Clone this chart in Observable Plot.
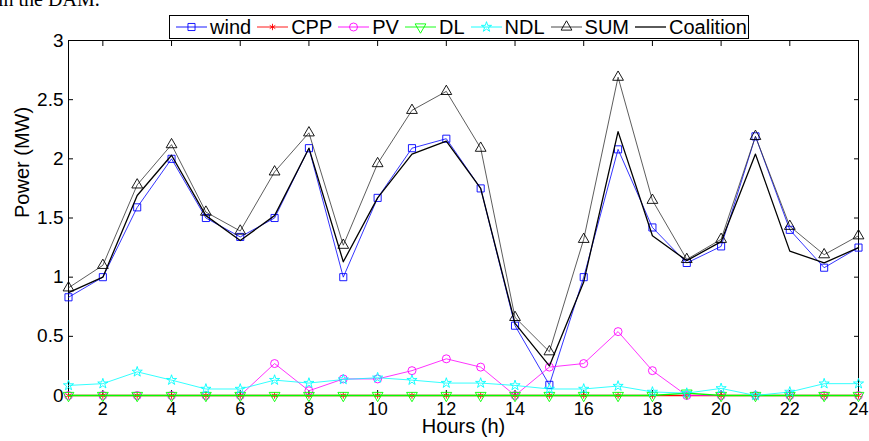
<!DOCTYPE html>
<html>
<head>
<meta charset="utf-8">
<script src="https://cdn.jsdelivr.net/npm/d3@7"></script>
<script src="https://cdn.jsdelivr.net/npm/@observablehq/plot@0.6"></script>
<style>
  html, body { margin: 0; padding: 0; background: white; }
  #wrap { position: relative; width: 869px; height: 441px; overflow: hidden; font-family: "Liberation Sans", Arial, sans-serif; }
  #title { position: absolute; left: -2px; top: -12px; font-family: "Liberation Serif", "Times New Roman", serif; font-size: 20px; white-space: nowrap; }
  #legend { position: absolute; left: 169px; top: 15px; width: 578px; height: 22px; border: 1px solid black; background: white; display: flex; align-items: center; font-size: 20px; box-sizing: content-box; }
  .item { display: flex; align-items: center; margin-left: 6px; }
  .item svg { display: block; margin-right: 3px; }
</style>
</head>
<body>
<div id="wrap">
  <div id="chart"></div>
  <div id="title">in the DAM.</div>
  <div id="legend"></div>
</div>
<script>
const hours = [1,2,3,4,5,6,7,8,9,10,11,12,13,14,15,16,17,18,19,20,21,22,23,24];
const wind = [0.83,1.00,1.59,2.00,1.50,1.34,1.50,2.09,1.00,1.67,2.09,2.17,1.75,0.59,0.09,1.00,2.08,1.42,1.12,1.26,2.19,1.40,1.08,1.25];
const cpp = [0,0,0,0,0,0,0,0,0,0,0,0,0,0,0,0,0,0,0,0,0,0,0,0];
const pv = [0,0,0,0,0,0,0.27,0.04,0.14,0.14,0.21,0.31,0.24,0,0.24,0.27,0.54,0.21,0,0,0,0,0,0];
const dl = [0,0,0,0,0,0,0,0,0,0,0,0,0,0,0,0,0,0,0.02,0,0,0,0,0];
const ndl = [0.085,0.10,0.20,0.13,0.055,0.055,0.13,0.105,0.135,0.15,0.13,0.105,0.105,0.085,0.055,0.055,0.08,0.03,0.02,0.06,0,0.03,0.10,0.10];
const sum = [0.91,1.10,1.78,2.12,1.55,1.39,1.89,2.22,1.27,1.96,2.41,2.57,2.09,0.66,0.37,1.32,2.69,1.65,1.15,1.32,2.19,1.43,1.19,1.35];
const coalition = [0.87,1.00,1.69,2.03,1.52,1.31,1.52,2.09,1.13,1.67,2.04,2.15,1.75,0.61,0.25,0.96,2.23,1.35,1.14,1.30,2.04,1.22,1.12,1.25];

const xTicks = [2,4,6,8,10,12,14,16,18,20,22,24];
const yTicks = [0,0.5,1,1.5,2,2.5,3];
const xLabel = "Hours (h)";
const yLabel = "Power (MW)";

const seriesNames = ["wind","CPP","PV","DL","NDL","SUM","Coalition"];
const seriesColors = ["#0000ff","#ff0000","#ff00ff","#00ff00","#00ffff","#000000","#000000"];
const seriesSymbols = ["square","asterisk","circle","triangle","star","triangle",null];
const seriesValues = [wind,cpp,pv,dl,ndl,sum,coalition];

function seriesMarks(i) {
  const ys = seriesValues[i];
  const color = seriesColors[i];
  const sym = seriesSymbols[i];
  const marks = [];
  const sw = i === 6 ? 1.3 : (i === 1 || i === 3 ? 1.4 : 0.8);
  const stroke = i === 5 ? "#333" : color;
  marks.push(Plot.line(ys, {x: hours, y: ys, stroke, strokeWidth: sw}));
  if (sym) {
    marks.push(Plot.dot(ys, {x: hours, y: ys, symbol: sym, stroke: color, fill: "none", strokeWidth: 0.9,
      r: sym === "asterisk" ? 3 : (sym === "star" ? 3.2 : 4), rotate: i === 3 ? 180 : 0}));
  }
  return marks;
}

const chart = Plot.plot({
  width: 869,
  height: 441,
  marginLeft: 68,
  marginRight: 11,
  marginTop: 40,
  marginBottom: 46,
  x: {domain: [1, 24]},
  y: {domain: [0, 3]},
  style: {fontFamily: "'Liberation Sans', Arial, sans-serif", fontSize: "19px", color: "black", background: "white", overflow: "visible"},
  marks: [
    Plot.frame({stroke: "black", strokeWidth: 1}),
    Plot.axisX({anchor: "bottom", ticks: xTicks, tickSize: -5, tickPadding: 12, tickFormat: d => String(d), label: null, fontSize: 18}),
    Plot.axisX({anchor: "top", ticks: xTicks, tickSize: -5, tickFormat: () => "", label: null}),
    Plot.axisY({anchor: "left", ticks: yTicks, tickSize: -5, tickPadding: 10, tickFormat: d => String(d), label: null}),
    Plot.axisY({anchor: "right", ticks: yTicks, tickSize: -5, tickFormat: () => "", label: null}),
    Plot.text([xLabel], {frameAnchor: "bottom", dy: 37, text: d => d, fontSize: 20}),
    Plot.text([yLabel], {frameAnchor: "left", dx: -46, rotate: -90, text: d => d, fontSize: 20}),
    ...seriesNames.flatMap((_, i) => seriesMarks(i))
  ]
});
document.getElementById("chart").appendChild(chart);

// legend
const legend = document.getElementById("legend");
const symbolMap = {square: d3.symbolSquare, asterisk: d3.symbolAsterisk, circle: d3.symbolCircle, triangle: d3.symbolTriangle, star: d3.symbolStar};
seriesNames.forEach((name, i) => {
  const item = document.createElement("div");
  item.className = "item";
  const svg = d3.create("svg").attr("width", 31).attr("height", 20);
  svg.append("line").attr("x1", 0).attr("x2", 31).attr("y1", 10).attr("y2", 10)
    .attr("stroke", i === 5 ? "#333" : seriesColors[i]).attr("stroke-width", i === 6 ? 1.3 : 0.9);
  const sym = seriesSymbols[i];
  if (sym) {
    const r = sym === "asterisk" ? 3 : (sym === "star" ? 3.2 : 4);
    svg.append("path").attr("d", d3.symbol(symbolMap[sym], Math.PI * r * r)())
      .attr("transform", `translate(15.5,10)` + (i === 3 ? " rotate(180)" : ""))
      .attr("fill", "none").attr("stroke", seriesColors[i]).attr("stroke-width", 0.9);
  }
  item.appendChild(svg.node());
  const span = document.createElement("span");
  span.textContent = name;
  item.appendChild(span);
  legend.appendChild(item);
});
</script>
</body>
</html>
